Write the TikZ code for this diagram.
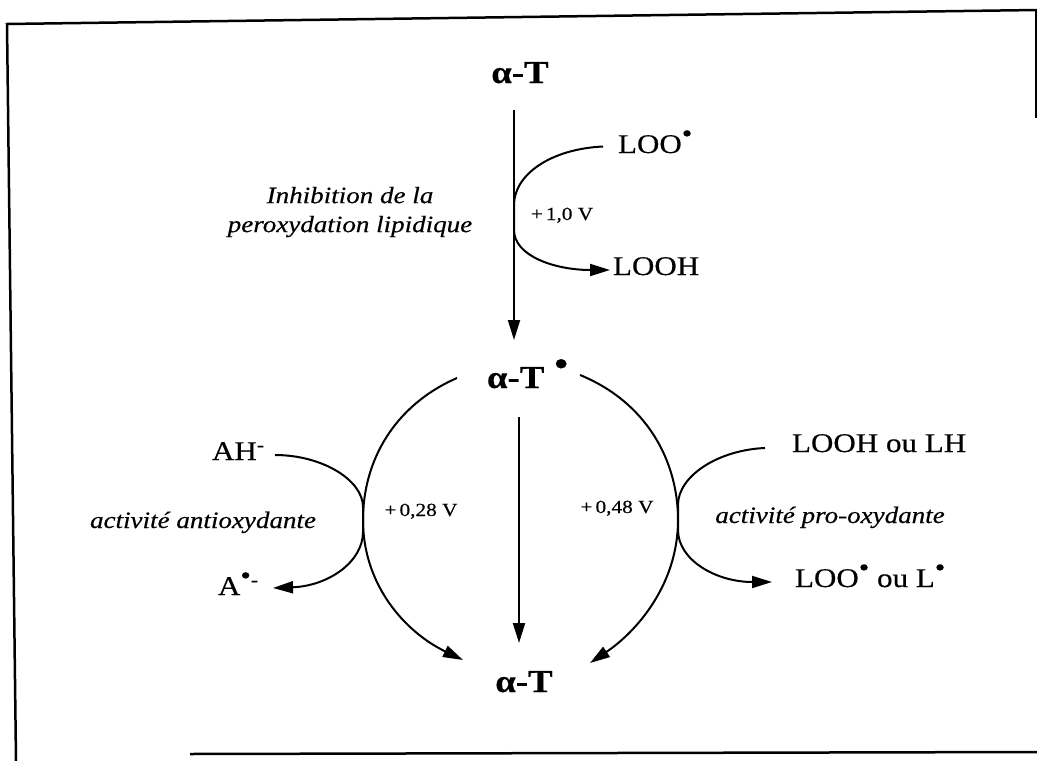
\documentclass[tikz,border=0pt]{standalone}
\usepackage{fontspec}
\setmainfont{Liberation Serif}[FakeStretch=1.15, FakeBold=0.4]
\usetikzlibrary{arrows.meta,calc}
\newcommand\rdot[2]{\raisebox{#1}{\fontsize{#2}{#2}\selectfont •}}
\begin{document}
\begin{tikzpicture}[x=1pt,y=-1pt,
  every node/.style={inner sep=0pt, outer sep=0pt},
  spec/.style={font=\fontsize{27}{30}\selectfont, text height=19pt, text depth=0pt, anchor=base west},
  alphat/.style={font=\fontsize{32}{36}\selectfont\bfseries, text height=22pt, text depth=0pt},
  pot/.style={font=\fontsize{18.5}{20}\selectfont, anchor=base},
  note/.style={font=\fontsize{23.5}{29}\selectfont\itshape, anchor=base, align=center},
  arr/.style={line width=2pt, -{Triangle[length=20pt,width=12pt]}},
  frame/.style={line width=2.5pt}]
\useasboundingbox (0,0) rectangle (1037,761);
% frame (scanned, partly visible)
\draw[frame] (16,761) -- (7,24) -- (1037,10);
\draw[frame] (1036,10) -- (1036,118);
\draw[frame] (190,754) -- (1037,752);

% species
\node[alphat, anchor=base] (top) at (520,83) {α-T};
\node[alphat, anchor=base west] (mid) at (487,388) {α-T\hspace{10pt}\rdot{13pt}{34}};
\node[alphat, anchor=base] (bot) at (524,692) {α-T};
\node[spec] (loo1) at (618,153) {LOO\rdot{11pt}{26}};
\node[spec] (looh1) at (613,275) {LOOH};
\node[spec] (ah) at (212,460) {AH\textsuperscript{-}};
\node[spec] (arad) at (218,595) {A\rdot{11pt}{26}\textsuperscript{-}};
\node[spec] (looh2) at (792,452) {LOOH ou LH};
\node[spec] (rad2) at (795,587) {LOO\rdot{11pt}{26} ou L\rdot{11pt}{26}};

% potentials
\node[pot] (p1) at (562,220) {+\,1,0 V};
\node[pot] (p2) at (421,516) {+\,0,28 V};
\node[pot] (p3) at (617,513) {+\,0,48 V};

% notes
\node[note, anchor=center] (inh) at (350,212) {Inhibition de la\\peroxydation lipidique};
\node[note] (anti) at (203,528) {activité antioxydante};
\node[note] (pro) at (830,523) {activité pro-oxydante};

% touch points
\coordinate (t1a) at (514,205);
\coordinate (t1b) at (514,230);
\coordinate (lt) at (363,520);
\coordinate (rt) at (678,520);
\coordinate (t2a) at (363,507);
\coordinate (t2b) at (363,532);
\coordinate (t3a) at (678,505);
\coordinate (t3b) at (678,530);

% main vertical arrows
\draw[arr] ($(top.south)+(-6,27)$) -- ($(top.south |- mid.north)+(-6,-26)$);
\draw[arr] ($(bot.north |- mid.south)+(-5,29)$) -- ($(bot.north)+(-5,-27)$);

% big arcs
\draw[arr] ($(mid.west)+(-30,1)$) .. controls (395,405) and (363,460) .. (lt)
  .. controls (363,585) and (405,632) .. ($(bot.north)+(-61,-10)$);
\draw[arr] ($(mid.west)+(93,-2)$) .. controls (646,402) and (678,460) .. (rt)
  .. controls (678,585) and (636,632) .. ($(bot.north)+(66,-7)$);

% side reactions
\draw[arr] ($(loo1.west)+(-15,3)$) .. controls (550,149) and (514,175) .. (t1a) -- (t1b)
  .. controls (514,256) and (555,270) .. ($(looh1.west)+(-3,4.5)$);
\draw[arr] ($(ah.west)+(63,4.5)$) .. controls (322,455) and (363,480) .. (t2a) -- (t2b)
  .. controls (363,562) and (328,586) .. ($(arad.west)+(55,2.5)$);
\draw[arr] ($(looh2.west)+(-27,5.5)$) .. controls (718,450) and (678,476) .. (t3a) -- (t3b)
  .. controls (678,560) and (716,582) .. ($(rad2.west)+(-23,4.5)$);
\end{tikzpicture}
\end{document}
